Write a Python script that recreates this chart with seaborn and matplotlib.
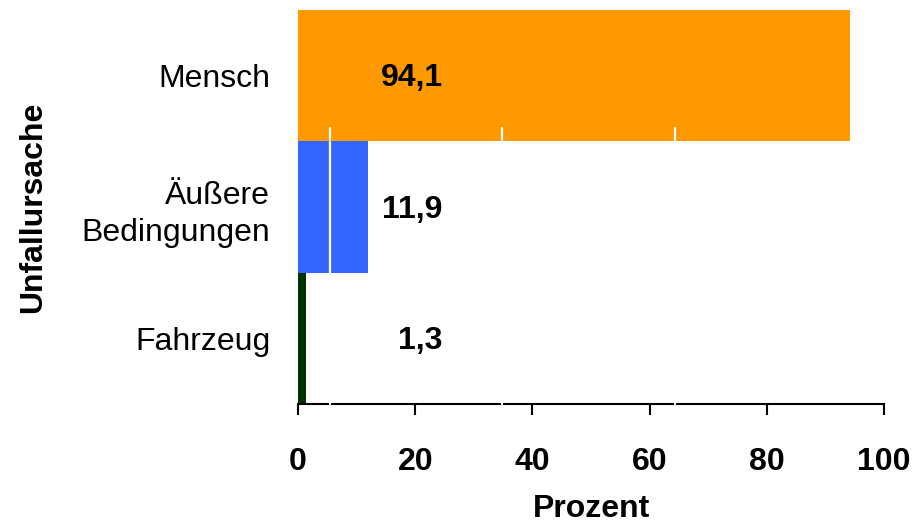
import numpy as np
import pandas as pd
import matplotlib
matplotlib.use("Agg")
import matplotlib.pyplot as plt
import seaborn as sns

# --- Data ---
categories = ["Mensch", "Äußere\nBedingungen", "Fahrzeug"]
percent = [94.1, 11.9, 1.3]
bar_colors = ["#FF9900", "#3366FF", "#003300"]
x_ticks = [0, 20, 40, 60, 80, 100]

df = pd.DataFrame({"Unfallursache": categories, "Prozent": percent})

sns.set_style("white")
plt.rcParams["font.family"] = ["Liberation Sans", "DejaVu Sans"]
plt.rcParams["text.color"] = "black"
plt.rcParams["axes.labelcolor"] = "black"
plt.rcParams["xtick.color"] = "black"
plt.rcParams["ytick.color"] = "black"

fig = plt.figure(figsize=(9.2, 5.29), dpi=100)
ax = fig.add_axes([0.324, 0.236, 0.637, 0.745])

sns.barplot(data=df, x="Prozent", y="Unfallursache", hue="Unfallursache",
            palette=bar_colors, saturation=1, width=1.0, orient="h",
            legend=False, linewidth=0, edgecolor="none", ax=ax)

# value labels (German decimal comma)
for i, v in enumerate(percent):
    ax.text(24.7, i + 0.02, f"{v:.1f}".replace(".", ","), ha="right",
            va="center", fontsize=23, fontweight="bold", color="black")

# white streaks from the original rendering
for xv in [5.5, 34.8, 64.3]:
    ax.axvline(xv, ymin=0, ymax=0.70, color="white", lw=1.6, zorder=5,
               clip_on=False)

ax.set_xlim(0, 100)
ax.set_ylim(2.5, -0.5)
ax.set_xticks(x_ticks)
ax.set_xticklabels([str(t) for t in x_ticks], fontsize=23, fontweight="bold")
ax.tick_params(axis="x", direction="out", length=8, width=1.5, color="black",
               pad=23, bottom=True)
ax.tick_params(axis="y", length=0, pad=20, labelsize=23)
for lbl in ax.get_yticklabels():
    lbl.set_linespacing(1.3)

for side in ["top", "right", "left"]:
    ax.spines[side].set_visible(False)
ax.spines["bottom"].set_color("black")
ax.spines["bottom"].set_linewidth(1.5)

ax.set_xlabel("Prozent", fontsize=23, fontweight="bold", labelpad=12)
ax.set_ylabel("Unfallursache", fontsize=23, fontweight="bold", labelpad=24)

fig.savefig("out.png", dpi=100)
